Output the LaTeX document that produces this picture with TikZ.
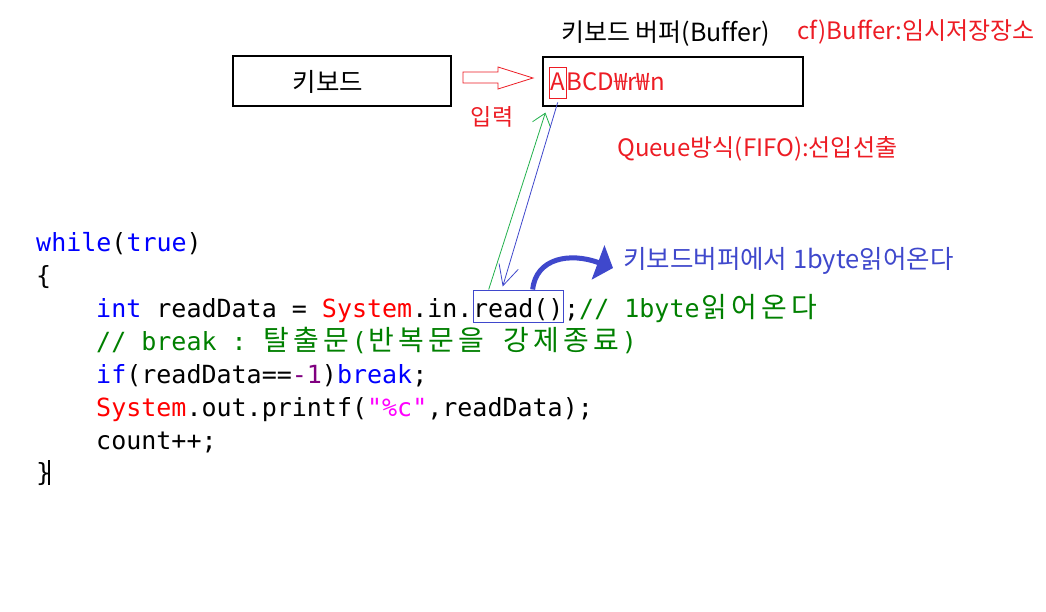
\documentclass[tikz,border=0pt]{standalone}
\usepackage{fontspec}
\setmainfont{Noto Sans CJK KR}[Ligatures=CommonOff]
\setmonofont{DejaVu Sans Mono}
\newfontfamily\kfont{Noto Sans CJK KR}
\usetikzlibrary{arrows.meta,positioning}

\definecolor{kwblue}{RGB}{0,0,255}
\definecolor{clsred}{RGB}{255,0,0}
\definecolor{cmtgreen}{RGB}{0,128,0}
\definecolor{numpurple}{RGB}{128,0,128}
\definecolor{strmagenta}{RGB}{255,0,255}
\definecolor{notered}{RGB}{237,28,36}
\definecolor{noteblue}{RGB}{63,72,204}
\definecolor{linegreen}{RGB}{34,177,76}

% colouring of the code
\newcommand\kw[1]{\textcolor{kwblue}{#1}}
\newcommand\cls[1]{\textcolor{clsred}{#1}}
\newcommand\cmt[1]{\textcolor{cmtgreen}{#1}}
\newcommand\numlit[1]{\textcolor{numpurple}{#1}}
\newcommand\strlit[1]{\textcolor{strmagenta}{#1}}

% hangul in the code: two cells wide
\makeatletter
\newcommand\kmono[1]{\@tfor\kch:=#1\do{\makebox[30pt]{\fontsize{28}{30}\kfont\kch}}}
\makeatother

\tikzset{
  code/.style={anchor=base west, inner sep=0pt, font=\ttfamily\fontsize{25}{30}\selectfont},
  note/.style={inner sep=0pt, font=\fontsize{24}{28}\selectfont},
  bignote/.style={inner sep=0pt, font=\fontsize{25.5}{30}\selectfont},
  box/.style={draw, line width=1.2pt}
}

\begin{document}
\begin{tikzpicture}[x=1pt,y=-1pt]

\fill[white] (0,0) rectangle (1046,611);
\useasboundingbox (0,0) rectangle (1046,611);

% Keyboard and buffer
\node[box, minimum width=218pt, minimum height=50pt] (kbd) at (342,81) {};
\node[bignote] (kbdtxt) at (328,82) {키보드};

\node[box, minimum width=260pt, minimum height=49pt] (buf) at (673,81.5) {};
\node[bignote, anchor=west, font=\fontsize{25}{30}\selectfont] (buftitle) at (561,34) {키보드 버퍼(Buffer)};
\node[note, text=notered, draw=notered, line width=0.8pt, inner xsep=1pt,
      text height=23pt, text depth=7.5pt, anchor=base west] (bufA) at (549,90.5) {A};
\node[note, text=notered, anchor=base west] (bufrest) at (bufA.base east) {BCD₩r₩n};

% Input arrow
\draw[notered, line width=0.8pt] (463,72) -- (498,72) -- (498,67) -- (533,78)
  -- (498,89) -- (498,83) -- (463,83) -- cycle;

% Red notes
\node[note, text=notered, font=\fontsize{23}{28}\selectfont] (input) at (492,117) {입력};
\node[note, text=notered, anchor=west] (cf) at (797,32) {cf)Buffer:임시저장장소};
\node[note, text=notered, anchor=west] (queue) at (617,149) {Queue방식(FIFO):선입선출};

% Code
\node[code] (l1) at (36,251.5) {\kw{while}(\kw{true})};
\node[code] (l2) at (36,284.3) {\{};
\node[code] (l3) at (96,317) {\kw{int} readData = \cls{System}.in.};
\node[code, draw=noteblue, line width=1pt, text height=27pt, text depth=5pt] (rd) at (l3.base east) {read()};
\node[code] (l3c) at (rd.base east) {;\cmt{// 1byte\kmono{읽어온다}}};
\node[code] (l4) at (96,350) {\cmt{// break : \kmono{탈출문}(\kmono{반복문을} \kmono{강제종료})}};
\node[code] (l5) at (96,383) {\kw{if}(readData==\numlit{-1})\kw{break};};
\node[code] (l6) at (96,416) {\cls{System}.out.printf(\strlit{"\%c"},readData);};
\node[code] (l7) at (96,449) {count++;};
\node[code] (l8) at (36,481.5) {\}};
\draw[line width=1.6pt] (49,460) -- (49,485); % cursor

% Connectors
\draw[linegreen, line width=0.8pt, -{Straight Barb[length=12pt,width=19pt]}]
  ([xshift=16pt]rd.north west) -- ([shift={(3pt,-6pt)}]buf.south west);
\draw[noteblue, line width=0.8pt, -{Straight Barb[length=20pt,width=20pt]}]
  ([yshift=-4pt]bufA.south) -- ([shift={(30pt,3pt)}]rd.north west);

% Read note
\node[bignote, text=noteblue, anchor=west] (readnote) at (623,261) {키보드버퍼에서 1byte읽어온다};
\coordinate (readtip) at ([shift={(-10pt,-7pt)}]readnote.west);
\draw[noteblue, line width=5pt, -{Triangle[length=16pt,width=36pt]}]
  ([xshift=60pt]rd.north west) .. controls (536,258) and (570,252) .. (readtip);

\end{tikzpicture}
\end{document}
